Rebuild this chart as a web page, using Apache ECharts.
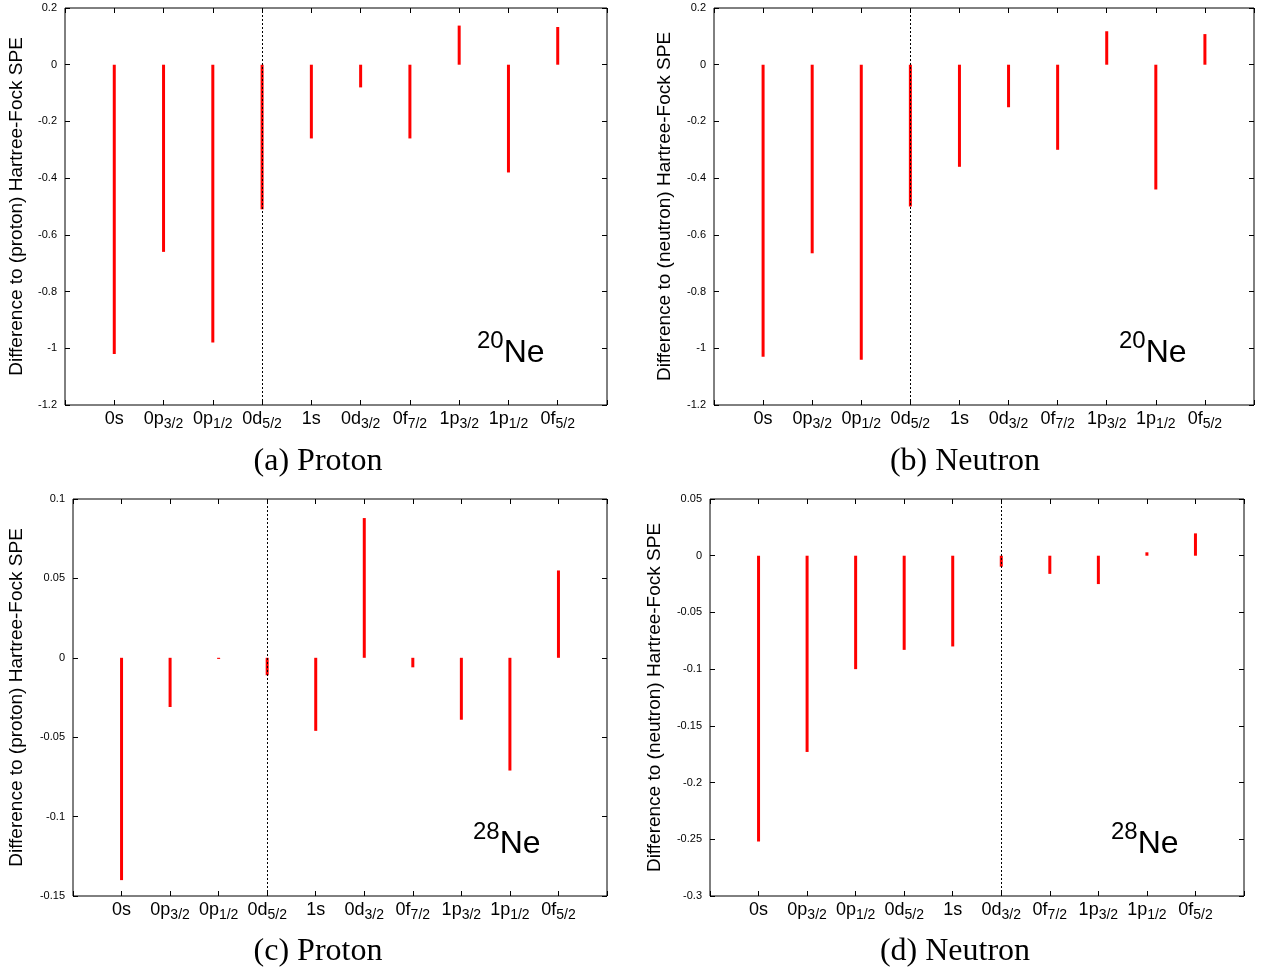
<!DOCTYPE html>
<html>
<head>
<meta charset="utf-8">
<script src="https://cdn.jsdelivr.net/npm/echarts@6/dist/echarts.min.js"></script>
<style>
html,body{margin:0;padding:0;background:#fff;}
#chart{width:1265px;height:971px;}
</style>
</head>
<body>
<div id="chart"></div>
<script>
// Orbital labels (main part and subscript)
const orbitalMain = ['0s','0p','0p','0d','1s','0d','0f','1p','1p','0f'];
const orbitalSub  = ['',  '3/2','1/2','5/2','', '3/2','7/2','3/2','1/2','5/2'];

// Differences to Hartree-Fock SPE
const protonNe20  = [-1.02, -0.66, -0.98, -0.51, -0.26, -0.08, -0.26, 0.138, -0.38, 0.133];
const neutronNe20 = [-1.03, -0.665, -1.04, -0.50, -0.36, -0.15, -0.30, 0.118, -0.44, 0.108];
const protonNe28  = [-0.14, -0.031, -0.0007, -0.011, -0.046, 0.088, -0.006, -0.039, -0.071, 0.055];
const neutronNe28 = [-0.252, -0.173, -0.10, -0.083, -0.08, -0.0097, -0.016, -0.025, 0.003, 0.0197];

// y-axis ranges
const yRangeNe20 = {min: -1.2, max: 0.2, interval: 0.2};
const yRangeNe28p = {min: -0.15, max: 0.1, interval: 0.05};
const yRangeNe28n = {min: -0.3, max: 0.05, interval: 0.05};

const panels = [
  {data: protonNe20,  y: yRangeNe20,  name: 'Difference to (proton) Hartree-Fock SPE',  grid: {left: 65, top: 8, width: 542, height: 397}, nameGap: 39, dash: 4, caption: '(a) Proton',  cap: [318, 462], iso: '20', isoPos: [477, 349]},
  {data: neutronNe20, y: yRangeNe20,  name: 'Difference to (neutron) Hartree-Fock SPE', grid: {left: 714, top: 8, width: 540, height: 397}, nameGap: 40, dash: 4, caption: '(b) Neutron', cap: [965, 462], iso: '20', isoPos: [1119, 349]},
  {data: protonNe28,  y: yRangeNe28p, name: 'Difference to (proton) Hartree-Fock SPE',  grid: {left: 73, top: 499, width: 534, height: 397}, nameGap: 47, dash: 4, caption: '(c) Proton',  cap: [318, 952], iso: '28', isoPos: [473, 840]},
  {data: neutronNe28, y: yRangeNe28n, name: 'Difference to (neutron) Hartree-Fock SPE', grid: {left: 710, top: 499, width: 534, height: 397}, nameGap: 46, dash: 6, caption: '(d) Neutron', cap: [955, 952], iso: '28', isoPos: [1111, 840]}
];

const grids = [], xAxes = [], yAxes = [], series = [], graphics = [];

panels.forEach((p, k) => {
  grids.push(Object.assign({show: true, borderColor: '#000', borderWidth: 1, containLabel: false}, p.grid));
  const xBase = {
    type: 'value', gridIndex: k, min: 0, max: 11, interval: 1,
    axisLine: {show: false, onZero: false}, splitLine: {show: false},
    axisTick: {show: true, inside: true, length: 5, lineStyle: {color: '#000', width: 1}}
  };
  xAxes.push(Object.assign({}, xBase, {
    position: 'bottom',
    axisLabel: {
      show: true, margin: 2,
      formatter: function (v) {
        const i = Math.round(v) - 1;
        if (i < 0 || i >= orbitalMain.length) return '';
        return orbitalSub[i] ? '{m|' + orbitalMain[i] + '}{s|' + orbitalSub[i] + '}' : '{m|' + orbitalMain[i] + '}';
      },
      rich: {
        m: {fontFamily: 'Liberation Sans', fontSize: 18, color: '#000', lineHeight: 24, verticalAlign: 'middle'},
        s: {fontFamily: 'Liberation Sans', fontSize: 14, color: '#000', lineHeight: 12, verticalAlign: 'bottom'}
      }
    }
  }));
  xAxes.push(Object.assign({}, xBase, {position: 'top', axisLabel: {show: false}}));
  const yBase = {
    type: 'value', gridIndex: k, min: p.y.min, max: p.y.max, interval: p.y.interval,
    axisLine: {show: false, onZero: false}, splitLine: {show: false},
    axisTick: {show: true, inside: true, length: 5, lineStyle: {color: '#000', width: 1}}
  };
  yAxes.push(Object.assign({}, yBase, {
    position: 'left',
    name: p.name, nameLocation: 'middle', nameGap: p.nameGap,
    nameTextStyle: {fontFamily: 'Liberation Sans', fontSize: 19, color: '#000'},
    axisLabel: {show: true, margin: 8, fontFamily: 'Liberation Sans', fontSize: 11, color: '#000'}
  }));
  yAxes.push(Object.assign({}, yBase, {position: 'right', axisLabel: {show: false}}));
  series.push({
    type: 'bar',
    xAxisIndex: 2 * k, yAxisIndex: 2 * k,
    barWidth: 3,
    itemStyle: {color: '#ff0000'},
    data: p.data.map((v, i) => [i + 1, v]),
    markLine: {
      silent: true, symbol: 'none', label: {show: false},
      lineStyle: {color: '#000', type: [2, 2], width: 1},
      data: [{xAxis: p.dash}]
    }
  });
  graphics.push({
    type: 'text', x: p.cap[0], y: p.cap[1],
    style: {text: p.caption, font: '32px "Liberation Serif"', fill: '#000', textAlign: 'center', textVerticalAlign: 'middle'}
  });
  graphics.push({
    type: 'text', x: p.isoPos[0], y: p.isoPos[1],
    style: {
      text: '{sup|' + p.iso + '}{big|Ne}',
      rich: {
        sup: {fontFamily: 'Liberation Sans', fontSize: 24, fill: '#000', lineHeight: 10, verticalAlign: 'top'},
        big: {fontFamily: 'Liberation Sans', fontSize: 32, fill: '#000', lineHeight: 40, verticalAlign: 'bottom'}
      },
      textVerticalAlign: 'middle'
    }
  });
});

const chart = echarts.init(document.getElementById('chart'));
chart.setOption({
  animation: false,
  backgroundColor: '#fff',
  grid: grids, xAxis: xAxes, yAxis: yAxes, series: series,
  graphic: graphics
});
</script>
</body>
</html>
